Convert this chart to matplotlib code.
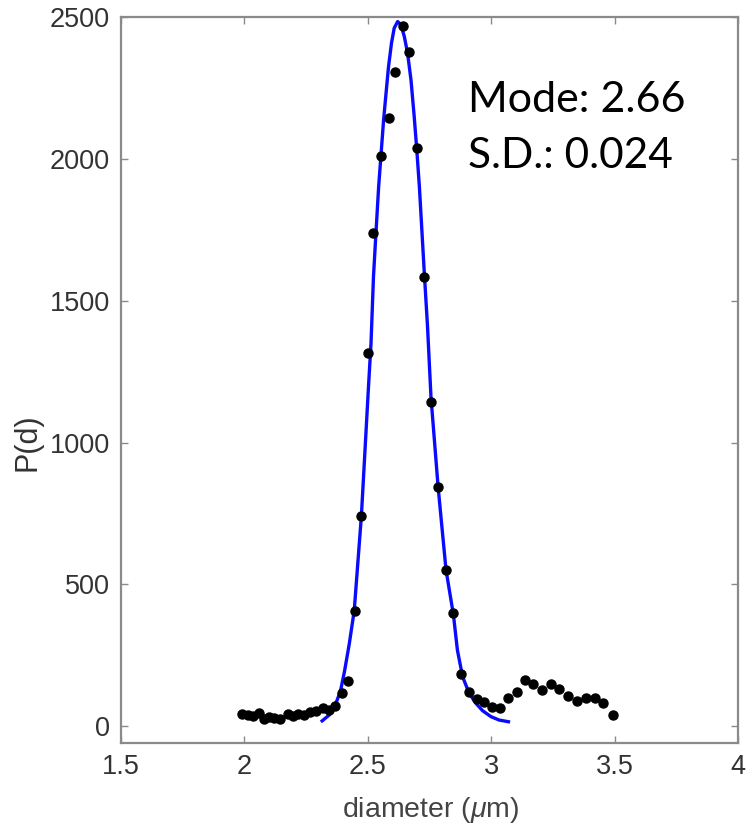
import matplotlib
matplotlib.use("Agg")
import matplotlib.pyplot as plt

# measured data points
diam = [1.991, 2.013, 2.036, 2.058, 2.081, 2.101, 2.121, 2.146, 2.175, 2.196,
        2.219, 2.243, 2.267, 2.290, 2.320, 2.341, 2.368, 2.396, 2.420, 2.448,
        2.474, 2.499, 2.523, 2.553, 2.584, 2.611, 2.641, 2.668, 2.698, 2.729,
        2.756, 2.785, 2.817, 2.847, 2.877, 2.911, 2.942, 2.972, 3.005, 3.036,
        3.070, 3.104, 3.138, 3.171, 3.205, 3.242, 3.275, 3.312, 3.347, 3.383,
        3.420, 3.455, 3.494]
prob = [42, 38, 35, 47, 24, 31, 27, 24, 42, 35,
        41, 39, 50, 54, 65, 56, 71, 118, 160, 407,
        741, 1315, 1739, 2012, 2146, 2306, 2470, 2377, 2038, 1585,
        1144, 842, 550, 397, 182, 121, 94, 86, 66, 62,
        98, 119, 162, 148, 127, 147, 131, 107, 89, 98,
        98, 80, 39]

# fitted curve
fit_d = [2.315, 2.344, 2.368, 2.389, 2.405, 2.425, 2.445, 2.474, 2.503, 2.513,
         2.523, 2.533, 2.544, 2.553, 2.564, 2.574, 2.584, 2.596, 2.607, 2.621,
         2.634, 2.648, 2.661, 2.675, 2.688, 2.698, 2.709, 2.719, 2.729, 2.742,
         2.756, 2.785, 2.817, 2.847, 2.863, 2.884, 2.911, 2.938, 2.965, 2.999,
         3.032, 3.070]
fit_P = [18, 39, 74, 122, 190, 290, 407, 741, 1200, 1350,
         1585, 1739, 1903, 2009, 2138, 2233, 2326, 2409, 2462, 2485,
         2474, 2432, 2374, 2279, 2150, 2038, 1903, 1750, 1597, 1409,
         1160, 842, 550, 392, 268, 174, 115, 80, 54, 33,
         21, 15]

xticks = [1.5, 2, 2.5, 3, 3.5, 4]
xticklabels = ["1.5", "2", "2.5", "3", "3.5", "4"]
yticks = [0, 500, 1000, 1500, 2000, 2500]
yticklabels = ["0", "500", "1000", "1500", "2000", "2500"]

plt.rcParams['font.family'] = ['Liberation Sans', 'DejaVu Sans']
plt.rcParams['mathtext.fontset'] = 'custom'
plt.rcParams['mathtext.it'] = 'Liberation Sans:italic'
plt.rcParams['mathtext.rm'] = 'Liberation Sans'

fig = plt.figure(figsize=(7.46, 8.26), dpi=100)
ax = fig.add_axes([121/746, 1-743/826, (738-121)/746, (743-17.3)/826])

ax.plot(fit_d, fit_P, color='#0a0aff', lw=2.4, zorder=2)
ax.plot(diam, prob, 'o', color='black', ms=6.5, zorder=3)

ax.set_xlim(1.5, 4)
ax.set_ylim(-60, 2500)
ax.set_xticks(xticks)
ax.set_xticklabels(xticklabels)
ax.set_yticks(yticks)
ax.set_yticklabels(yticklabels)

gray = '#8a8a8a'
for s in ax.spines.values():
    s.set_color(gray)
    s.set_linewidth(1.6)
ax.tick_params(direction='in', length=5, width=1.0, color=gray,
               labelsize=19.5, labelcolor='#333333',
               top=True, right=True, pad=8)
ax.set_xlabel(r'diameter ($\mu$m)', fontsize=20.5, color='#444444')
ax.xaxis.set_label_coords(0.5024, -0.072)
ax.set_ylabel('P(d)', fontsize=22, color='#333333')
ax.yaxis.set_label_coords(-0.128, 0.4146)

fig.text(468/746, 1-112/826, 'Mode: 2.66', fontsize=31, family='Lato',
         color='black', va='baseline', ha='left')
fig.text(468/746, 1-168.3/826, 'S.D.: 0.024', fontsize=30.5, family='Lato',
         color='black', va='baseline', ha='left')

fig.savefig('out.png', dpi=100)
